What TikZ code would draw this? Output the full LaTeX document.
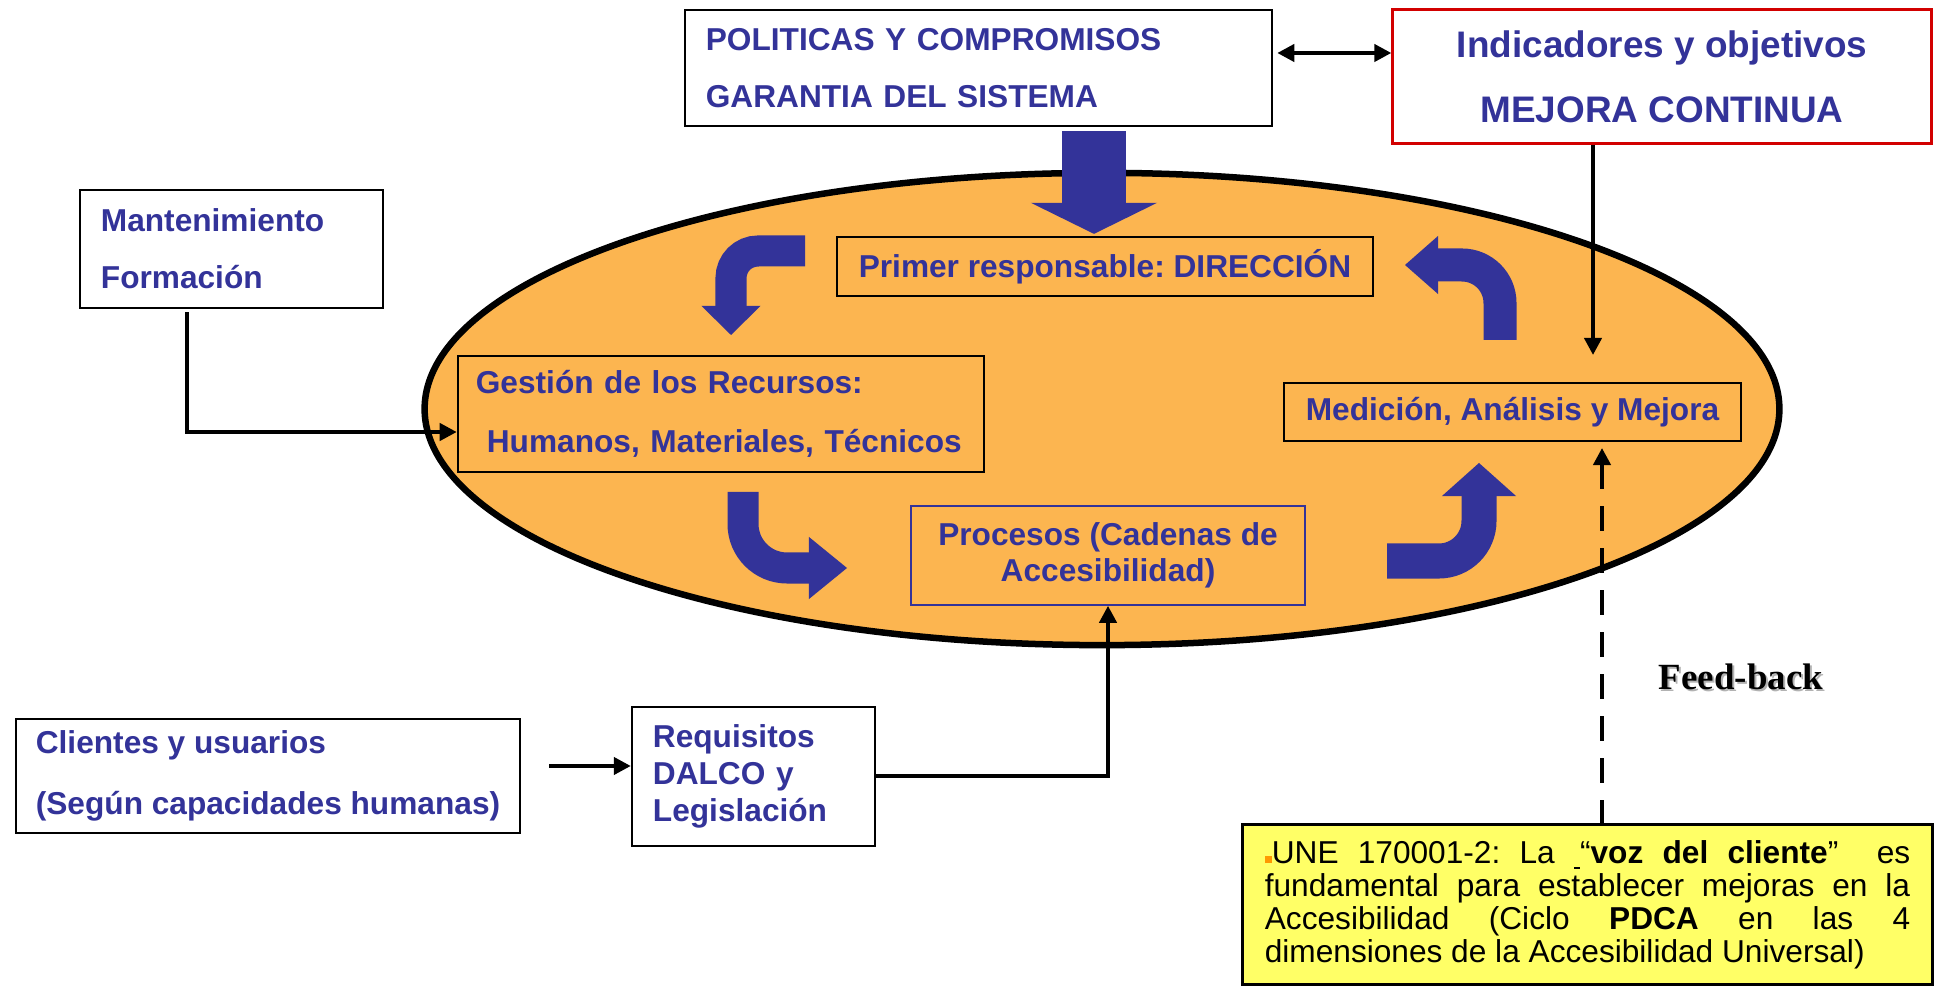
\documentclass[tikz,border=0pt]{standalone}
\usepackage{fontspec}
\setmainfont{Liberation Sans}
\newfontfamily\serifbf{Liberation Serif}
\usetikzlibrary{arrows.meta}
\frenchspacing

\definecolor{navy}{RGB}{51,51,153}
\definecolor{cyclefill}{RGB}{252,181,80}
\definecolor{notefill}{RGB}{255,255,102}
\definecolor{boxred}{RGB}{210,0,0}
\definecolor{bulletor}{RGB}{255,153,0}

\tikzset{
  box/.style={draw, line width=0.022cm, inner sep=0pt, text=navy,
    font=\bfseries\fontsize{9pt}{16pt}\selectfont},
  conn/.style={line width=0.04cm},
  cyclearrow/.style={draw=navy, line width=#1},
}

\begin{document}
\begin{tikzpicture}[x=0.01cm, y=-0.01cm, >={Triangle[width=0.17cm,length=0.17cm]}]
  \useasboundingbox (0,0) rectangle (1936,986);

  \draw[line width=0.065cm, fill=cyclefill] (1102,409) ellipse [x radius=6.77cm, y radius=2.36cm];

  \node[box, fill=white, minimum width=5.87cm, minimum height=1.16cm, text width=5.45cm, align=left]
    (pol) at (978.5,68) {POLITICAS Y COMPROMISOS\\GARANTIA DEL SISTEMA};
  \node[box, draw=boxred, line width=0.03cm, fill=white, minimum width=5.38cm, minimum height=1.33cm,
    align=center, font=\bfseries\fontsize{10.5pt}{18.4pt}\selectfont]
    (ind) at (1662,76.5) {Indicadores y objetivos\\MEJORA CONTINUA};
  \node[box, fill=white, minimum width=3.03cm, minimum height=1.18cm, text width=2.61cm, align=left,
    font=\bfseries\fontsize{9pt}{16.2pt}\selectfont]
    (mant) at (231.5,249) {Mantenimiento\\Formación};
  \node[box, fill=cyclefill, minimum width=5.36cm, minimum height=0.59cm]
    (dir) at (1105,266.5) {Primer responsable: DIRECCIÓN};
  \node[box, fill=cyclefill, minimum width=5.26cm, minimum height=1.16cm, text width=4.9cm, align=left,
    font=\bfseries\fontsize{9pt}{16.8pt}\selectfont]
    (gest) at (721,414) {Gestión de los Recursos:\\\hspace*{0.11cm}Humanos, Materiales, Técnicos};
  \node[box, fill=cyclefill, minimum width=4.57cm, minimum height=0.58cm]
    (med) at (1512.5,412) {Medición, Análisis y Mejora};
  \node[box, draw=navy, line width=0.015cm, fill=cyclefill, minimum width=3.94cm, minimum height=0.99cm,
    align=center, font=\bfseries\fontsize{9pt}{10.2pt}\selectfont]
    (proc) at (1108,555.5) {Procesos (Cadenas de\\Accesibilidad)};
  \node[box, fill=white, minimum width=5.04cm, minimum height=1.14cm, align=left,
    font=\bfseries\fontsize{9pt}{17.3pt}\selectfont]
    (cli) at (268,776) {Clientes y usuarios\\(Según capacidades humanas)};
  \node[box, fill=white, minimum width=2.43cm, minimum height=1.39cm, text width=2.01cm, align=left,
    font=\bfseries\fontsize{9pt}{10.6pt}\selectfont]
    (req) at (753.5,776.5) {Requisitos\\DALCO y\\Legislación};
  \node[draw, line width=0.03cm, fill=notefill, inner sep=0pt, minimum width=6.89cm, minimum height=1.59cm,
    font=\fontsize{9pt}{9.4pt}\selectfont]
    (une) at (1587.5,904.5) {\parbox{6.45cm}{\textcolor{bulletor}{\rule{0.07cm}{0.07cm}}UNE 170001-2: La
    \underline{\hspace{0.06cm}}“\textbf{voz del cliente}”\ \ es\linebreak
    fundamental para establecer mejoras en la\linebreak
    Accesibilidad (Ciclo \textbf{PDCA} en las 4\linebreak
    dimensiones de la Accesibilidad Universal)}};
  \node[text=black!30, font=\serifbf\bfseries\fontsize{10.5pt}{12pt}\selectfont] (fbshadow) at (1743,679) {Feed-back};
  \node[font=\serifbf\bfseries\fontsize{10.5pt}{12pt}\selectfont] (fb) at (1741,677) {Feed-back};

  \draw[navy, line width=0.64cm, -{Triangle[width=1.26cm,length=0.31cm,line width=0pt]}]
    ([xshift=-0.11cm,yshift=-0.04cm]dir.north |- pol.south) -- ([xshift=-0.11cm,yshift=0.02cm]dir.north);
  \draw[cyclearrow=0.31cm, rounded corners=0.27cm, -{Triangle[width=0.59cm,length=0.29cm,line width=0pt]}]
    (805,251) -- (731,251) -- (731,335);
  \draw[cyclearrow=0.33cm, rounded corners=0.38cm, -{Triangle[width=0.58cm,length=0.33cm,line width=0pt]}]
    (1500,340) -- (1500,265) -- (1405,265);
  \draw[cyclearrow=0.31cm, rounded corners=0.44cm, -{Triangle[width=0.62cm,length=0.38cm,line width=0pt]}]
    (743,492) -- (743,568) -- (847,568);
  \draw[cyclearrow=0.35cm, rounded corners=0.40cm, -{Triangle[width=0.74cm,length=0.33cm,line width=0pt]}]
    (1387,561) -- (1479,561) -- (1479,463);

  \coordinate (top) at (1300,53);
  \coordinate (cliEnd) at (549,766);
  \coordinate (medIn) at (1593,355);
  \coordinate (fbEnd) at (1602,448);
  \draw[conn, <->] ([xshift=0.04cm]pol.east |- top) -- (ind.west |- top);
  \draw[conn, ->] ([xshift=-0.445cm,yshift=-0.03cm]mant.south) |- ([yshift=-0.18cm]gest.west);
  \draw[conn, ->] (cliEnd) -- (req.west |- cliEnd);
  \draw[conn, ->] (req.east) -| (proc.south);
  \draw[conn, ->] (ind.south -| medIn) -- (medIn);
  \draw[conn, <-, dash pattern=on 0.25cm off 0.17cm] (fbEnd) -- (une.north -| fbEnd);
\end{tikzpicture}
\end{document}
